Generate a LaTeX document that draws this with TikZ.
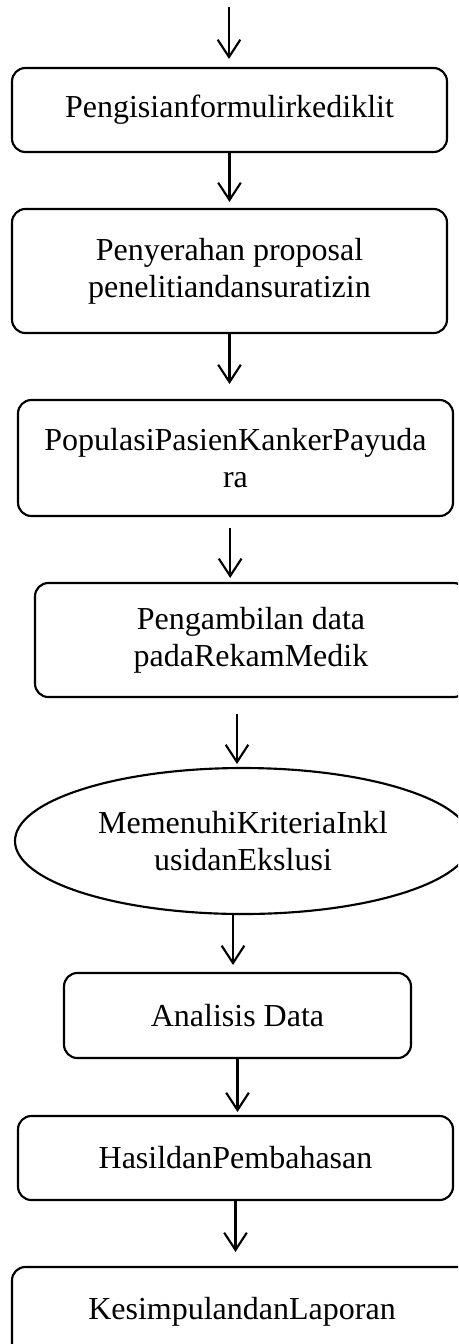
\documentclass[tikz,border=0pt]{standalone}
\usepackage{fontspec}
\setmainfont{Liberation Serif}
\usetikzlibrary{arrows.meta, shapes.geometric, positioning}

\tikzset{
	stepbox/.style={draw, rounded corners=5pt, line width=0.8pt, align=center, inner sep=0pt},
	critbox/.style={draw, ellipse, line width=0.8pt, align=center, inner sep=0pt},
	flow/.style={line width=0.8pt, -{Straight Barb[length=6.5pt, width=8.5pt]}}
}

\begin{document}
\begin{tikzpicture}[x=0.375pt, y=-0.375pt, font=\fontsize{12}{13.9}\selectfont]
	\path[use as bounding box, clip] (0,0) rectangle (458,1344);
	% langkah-langkah
	\node[stepbox, minimum width=163.1pt, minimum height=31.5pt] (isi) at (229.5,110) {Pengisianformulirkediklit};
	\node[stepbox, minimum width=163.1pt, minimum height=46.5pt] (proposal) at (229.5,271) {Penyerahan proposal\\penelitiandansuratizin};
	\node[stepbox, minimum width=163.1pt, minimum height=43.5pt] (populasi) at (235.5,458) {PopulasiPasienKankerPayuda\\ra};
	\node[stepbox, minimum width=162pt, minimum height=42.75pt] (rekam) at (251,640) {Pengambilan data\\padaRekamMedik};
	\node[critbox, minimum width=171pt, minimum height=54.75pt] (kriteria) at (243,841) {MemenuhiKriteriaInkl\\usidanEkslusi};
	\node[stepbox, minimum width=130.1pt, minimum height=31.9pt] (analisis) at (237.5,1015.5) {Analisis Data};
	\node[stepbox, minimum width=163.1pt, minimum height=31.5pt] (hasil) at (235.5,1158) {HasildanPembahasan};
	\node[stepbox, minimum width=172.5pt, minimum height=33.75pt] (simpul) at (242,1312) {KesimpulandanLaporan};
	% panah
	\coordinate (mulai) at (229,7);
	\draw[flow, shorten >=3pt] (mulai) -- (mulai |- isi.north);
	\draw[flow, shorten >=2.25pt] (isi.south) -- (isi.south |- proposal.north);
	\draw[flow, shorten >=5.6pt] (proposal.south) -- (proposal.south |- populasi.north);
	\draw[flow, shorten <=4.1pt, shorten >=1.5pt] ([xshift=-2pt]populasi.south) -- ([xshift=-2pt]populasi.south |- rekam.north);
	\draw[flow, shorten <=6pt, shorten >=1.1pt] ([xshift=-5.25pt]rekam.south) -- ([xshift=-5.25pt]rekam.south |- kriteria.north);
	\draw[flow, shorten >=2.6pt] ([xshift=-3.75pt]kriteria.south) -- ([xshift=-3.75pt]kriteria.south |- analisis.north);
	\draw[flow, shorten >=1.1pt] (analisis.south) -- (analisis.south |- hasil.north);
	\draw[flow, shorten >=5.25pt] (hasil.south) -- (hasil.south |- simpul.north);
\end{tikzpicture}
\end{document}
